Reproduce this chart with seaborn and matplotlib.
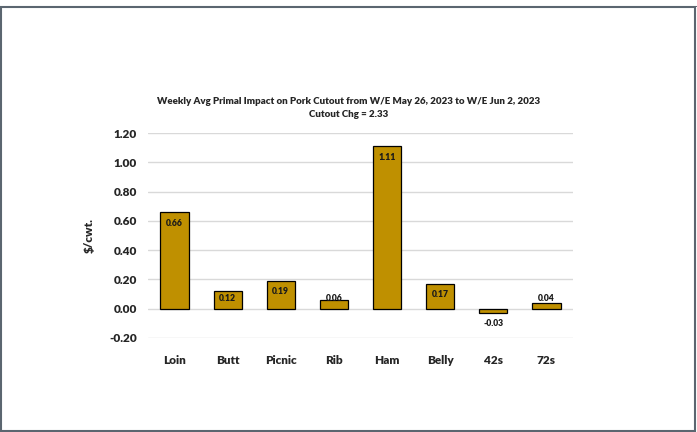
import matplotlib
matplotlib.use("Agg")
import matplotlib.pyplot as plt
import seaborn as sns
import pandas as pd
from matplotlib.patches import Rectangle

# Primal contributions to the weekly pork cutout change ($/cwt.)
primals = ["Loin", "Butt", "Picnic", "Rib", "Ham", "Belly", "42s", "72s"]
impact = [0.66, 0.12, 0.19, 0.06, 1.11, 0.17, -0.03, 0.04]
value_labels = ["0.66", "0.12", "0.19", "0.06", "1.11", "0.17", "-0.03", "0.04"]
y_ticks = [-0.20, 0.00, 0.20, 0.40, 0.60, 0.80, 1.00, 1.20]

title_line1 = "Weekly Avg Primal Impact on Pork Cutout from W/E May 26, 2023 to W/E Jun 2, 2023"
title_line2 = "Cutout Chg = 2.33"

sns.set_theme(style="white")
plt.rcParams["font.family"] = ["Lato", "DejaVu Sans"]

df = pd.DataFrame({"primal": primals, "impact": impact})

fig = plt.figure(figsize=(6.97, 4.32), dpi=100)
ax = fig.add_axes([0.2123, 0.2176, 0.6098, 0.4745])

sns.barplot(data=df, x="primal", y="impact", color="#BF9000", saturation=1,
            edgecolor="black", linewidth=0.9, width=0.53, ax=ax, zorder=3)

ax.set_ylim(-0.2, 1.2)
ax.set_xlim(-0.5, len(primals) - 0.5)
ax.set_yticks(y_ticks)
ax.set_yticklabels([f"{t:.2f}" for t in y_ticks], fontsize=8.5, fontweight="heavy")
ax.tick_params(axis="both", length=0, pad=8)
for lbl in ax.get_xticklabels():
    lbl.set_fontweight("heavy")
    lbl.set_fontsize(8.5)
ax.tick_params(axis="x", pad=12)
ax.set_xlabel("")
ax.set_ylabel("$/cwt.", fontsize=8.5, fontweight="heavy", labelpad=10)
ax.yaxis.grid(True, color="#D9D9D9", linewidth=1.0, zorder=0)
ax.xaxis.grid(False)
for s in ax.spines.values():
    s.set_visible(False)

# Value labels: inside the top of each bar, below negative bars
for i, (v, txt) in enumerate(zip(impact, value_labels)):
    if v >= 0:
        ypos = max(v - 0.075, 0.068)
    else:
        ypos = v - 0.07
    ax.text(i, ypos, txt, ha="center", va="center", fontsize=6.2,
            fontweight="heavy", color="#1a1a1a", zorder=5)

fig.text(0.5, 0.764, title_line1, ha="center", va="center",
         fontsize=7, fontweight="heavy")
fig.text(0.5, 0.736, title_line2, ha="center", va="center",
         fontsize=7, fontweight="heavy")

# Outer frame around the whole chart
fig.patches.append(Rectangle((0.001, 0.003), 0.996, 0.981, transform=fig.transFigure,
                             fill=False, edgecolor="#5B6670", linewidth=1.5))
fig.patches.append(Rectangle((0.0, 0.984), 1.0, 0.003, transform=fig.transFigure,
                             fill=True, facecolor="#5B6670", edgecolor="none"))

fig.savefig("out.png", dpi=100)
